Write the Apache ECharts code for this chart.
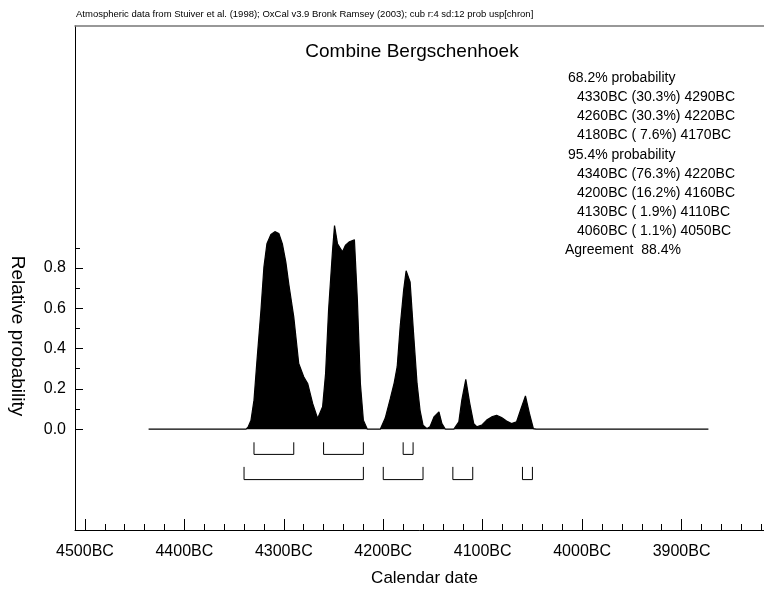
<!DOCTYPE html>
<html>
<head>
<meta charset="utf-8">
<script src="https://cdn.jsdelivr.net/npm/echarts@6/dist/echarts.min.js"></script>
<style>
html,body{margin:0;padding:0;background:#fff;}
#chart{width:764px;height:589px;}
</style>
</head>
<body>
<div id="chart"></div>
<script>
// ---- data (calendar years BC, relative probability) ----
const years = [4436,4338,4336,4333,4330,4327,4323,4320,4317,4313,4309,4305,4301.5,4298,4295,4290,4285,4280,4276,4271,4266,4264,4261,4258,4255,4251,4249,4246,4241,4238,4234,4229,4226,4223,4220,4216,4203,4201,4198,4193,4189,4186,4183,4179.5,4177,4173,4169.5,4166,4163,4160,4156,4153,4149,4144,4141,4137.5,4129,4124,4121,4117,4113,4109,4106,4101,4096,4091,4086,4081,4076,4071,4066,4062,4057,4053,4049,4046,3873];
const probs = [0,0,0.01,0.045,0.144,0.34,0.59,0.805,0.92,0.966,0.98,0.971,0.92,0.83,0.72,0.557,0.326,0.26,0.227,0.128,0.053,0.058,0.111,0.276,0.59,0.888,1.01,0.92,0.88,0.913,0.93,0.94,0.64,0.227,0.045,0,0,0.003,0.055,0.15,0.23,0.31,0.508,0.69,0.786,0.731,0.475,0.227,0.094,0.02,0.003,0.012,0.061,0.086,0.028,0,0,0.036,0.144,0.247,0.128,0.028,0.012,0.02,0.045,0.061,0.069,0.058,0.041,0.028,0.036,0.094,0.165,0.078,0.003,0,0];
const range68 = [[4330,4290],[4260,4220],[4180,4170]];
const pct68 = [30.3,30.3,7.6];
const range95 = [[4340,4220],[4200,4160],[4130,4110],[4060,4050]];
const pct95 = [76.3,16.2,1.9,1.1];
const agreement = 88.4;
const xTickValues = [4500,4400,4300,4200,4100,4000,3900];
const xMinorTickValues = [4480,4460,4440,4420,4380,4360,4340,4320,4280,4260,4240,4220,4180,4160,4140,4120,4080,4060,4040,4020,3980,3960,3940,3920,3880,3860,3840,3820];
const yTickValues = [0,0.2,0.4,0.6,0.8];
const yMinorTickValues = [0.1,0.3,0.5,0.7,0.9];
const titleText = 'Combine Bergschenhoek';
const headerText = 'Atmospheric data from Stuiver et al. (1998); OxCal v3.9 Bronk Ramsey (2003); cub r:4 sd:12 prob usp[chron]';

// ---- build ----
const FONT = '"Liberation Sans", Arial, sans-serif';
const curve = years.map((y, i) => [y, probs[i]]);
function fmtPct(p){ const s = p.toFixed(1); return s.length < 4 ? ' ' + s : s; }
const textLines = [];
textLines.push({t:'68.2% probability', x:568});
range68.forEach((r,i)=>textLines.push({t:r[0]+'BC ('+fmtPct(pct68[i])+'%) '+r[1]+'BC', x:577}));
textLines.push({t:'95.4% probability', x:568});
range95.forEach((r,i)=>textLines.push({t:r[0]+'BC ('+fmtPct(pct95[i])+'%) '+r[1]+'BC', x:577}));
textLines.push({t:'Agreement  '+agreement.toFixed(1)+'%', x:565});

function bracketSeries(data, top, bottom){
  return {
    type:'custom', xAxisIndex:0, yAxisIndex:0, data:data, encode:{x:[0,1]}, silent:true,
    renderItem:function(params, api){
      const a = api.value(0), b = api.value(1);
      const p1 = api.coord([a, top]), p2 = api.coord([a, bottom]);
      const p3 = api.coord([b, bottom]), p4 = api.coord([b, top]);
      return {type:'polyline', shape:{points:[p1,p2,p3,p4]}, style:{stroke:'#000', fill:null, lineWidth:1}};
    }
  };
}

const chart = echarts.init(document.getElementById('chart'), null, {renderer:'canvas'});
const axisCommon = {type:'value', min:3800, max:4510, inverse:true, splitLine:{show:false}};
chart.setOption({
  animation:false,
  backgroundColor:'#fff',
  textStyle:{fontFamily:FONT},
  grid:{left:75, top:26, right:-17, bottom:59, show:false, outerBoundsMode:'none'},
  xAxis:[
    Object.assign({}, axisCommon, {
      position:'bottom',
      axisLine:{show:true, onZero:false, lineStyle:{color:'#000', width:1}},
      axisTick:{show:true, inside:true, length:11, customValues:xTickValues, lineStyle:{color:'#000'}},
      axisLabel:{show:true, customValues:xTickValues, formatter:v=>v+'BC', fontSize:16, color:'#000', margin:14, fontFamily:FONT},
      name:'Calendar date', nameLocation:'middle', nameGap:40,
      nameTextStyle:{fontSize:17, color:'#000', fontFamily:FONT, padding:[0,7,0,0]}
    }),
    Object.assign({}, axisCommon, {
      position:'bottom',
      axisLine:{show:false, onZero:false},
      axisTick:{show:true, inside:true, length:6, customValues:xMinorTickValues, lineStyle:{color:'#000'}},
      axisLabel:{show:false}
    }),
    Object.assign({}, axisCommon, {
      position:'top',
      axisLine:{show:true, onZero:false, lineStyle:{color:'#777', width:1.5}},
      axisTick:{show:false}, axisLabel:{show:false}
    })
  ],
  yAxis:[
    {type:'value', min:-0.5, max:2.0, splitLine:{show:false}, position:'left',
     axisLine:{show:true, onZero:false, lineStyle:{color:'#000', width:1}},
     axisTick:{show:true, inside:true, length:8, customValues:yTickValues, lineStyle:{color:'#000'}},
     axisLabel:{show:true, customValues:yTickValues, formatter:v=>v.toFixed(1), fontSize:16, color:'#000', margin:9, fontFamily:FONT}
    },
    {type:'value', min:-0.5, max:2.0, splitLine:{show:false}, position:'left', offset:0,
     axisLine:{show:false, onZero:false},
     axisTick:{show:true, inside:true, length:5, customValues:yMinorTickValues, lineStyle:{color:'#000'}},
     axisLabel:{show:false}
    }
  ],
  series:[
    {type:'line', xAxisIndex:0, yAxisIndex:0, data:curve, showSymbol:false, symbol:'none', silent:true,
     lineStyle:{color:'#000', width:1.2}, areaStyle:{color:'#000', opacity:1, origin:0}},
    bracketSeries(range68, -0.065, -0.125),
    bracketSeries(range95, -0.187, -0.25)
  ],
  graphic:[
    {type:'text', x:76, y:14, style:{text:headerText, font:'9.5px '+FONT, fill:'#000', textAlign:'left', textVerticalAlign:'middle'}},
    {type:'text', x:412, y:52, style:{text:titleText, font:'19px '+FONT, fill:'#000', textAlign:'center', textVerticalAlign:'middle'}},
    {type:'text', x:17, y:336, rotation:-Math.PI/2, style:{text:'Relative probability', font:'19px '+FONT, fill:'#000', textAlign:'center', textVerticalAlign:'middle'}}
  ].concat(textLines.map((l,i)=>({type:'text', x:l.x, y:78.3+i*19.1, style:{text:l.t, font:'14px '+FONT, fill:'#000', textAlign:'left', textVerticalAlign:'middle'}})))
});
</script>
</body>
</html>
